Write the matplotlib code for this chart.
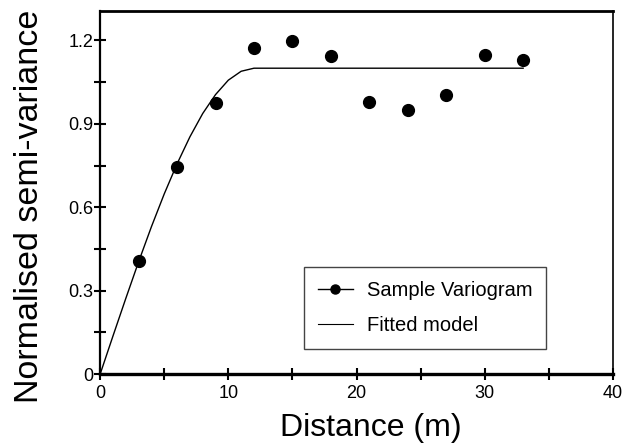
import matplotlib
matplotlib.use("Agg")
import matplotlib.pyplot as plt
from matplotlib.lines import Line2D
from matplotlib.ticker import MultipleLocator

plt.rcParams['font.family'] = ['Liberation Sans', 'DejaVu Sans']

# Sample variogram
lag_distance = [3, 6, 9, 12, 15, 18, 21, 24, 27, 30, 33]
semivariance = [0.407, 0.743, 0.976, 1.174, 1.197, 1.143, 0.978, 0.949, 1.003, 1.146, 1.131]

# Fitted model curve
model_distance = [0, 1, 2, 3, 4, 5, 6, 7, 8, 9, 10, 11, 12, 33]
model_value = [0.0, 0.137, 0.272, 0.404, 0.530, 0.648, 0.756, 0.853, 0.937, 1.005, 1.057, 1.089, 1.10, 1.10]

x_ticks = [0, 10, 20, 30, 40]
y_ticks = [0, 0.3, 0.6, 0.9, 1.2]
y_tick_labels = ['0', '0.3', '0.6', '0.9', '1.2']

fig = plt.figure(figsize=(6.26, 4.48), dpi=100)
ax = fig.add_axes([0.16, 0.165, 0.819, 0.81])

ax.plot(model_distance, model_value, color='black', lw=1.0)
ax.plot(lag_distance, semivariance, 'o', color='black', ms=8.5, ls='none')

ax.set_xlim(0, 40)
ax.set_ylim(0, 1.305)
ax.set_xticks(x_ticks)
ax.set_xticklabels([str(t) for t in x_ticks])
ax.set_yticks(y_ticks)
ax.set_yticklabels(y_tick_labels)
ax.xaxis.set_minor_locator(MultipleLocator(5))
ax.yaxis.set_minor_locator(MultipleLocator(0.15))
ax.tick_params(which='both', direction='inout', length=8, width=1.5, labelsize=13, pad=1)
ax.tick_params(axis='x', pad=4)

for side, lw in [('bottom', 2.4), ('left', 1.6), ('top', 2.0), ('right', 1.2)]:
    ax.spines[side].set_linewidth(lw)

ax.set_xlabel('Distance (m)', fontsize=23)
ax.set_ylabel('Normalised semi-variance', fontsize=24.5)
ax.xaxis.set_label_coords(0.528, -0.108)
ax.yaxis.set_label_coords(-0.107, 0.463)

handles = [Line2D([], [], color='black', marker='o', ms=6.5, lw=1.0),
           Line2D([], [], color='black', lw=0.8)]
leg = ax.legend(handles, ['Sample Variogram', 'Fitted model'], loc='lower left',
                bbox_to_anchor=(0.398, 0.069), fontsize=14.5, fancybox=False,
                edgecolor='#444444', framealpha=1, handlelength=1.7,
                borderpad=0.7, labelspacing=0.8, handletextpad=0.7, borderaxespad=0)
leg.get_frame().set_linewidth(1.0)

fig.savefig('out.png', dpi=100)
